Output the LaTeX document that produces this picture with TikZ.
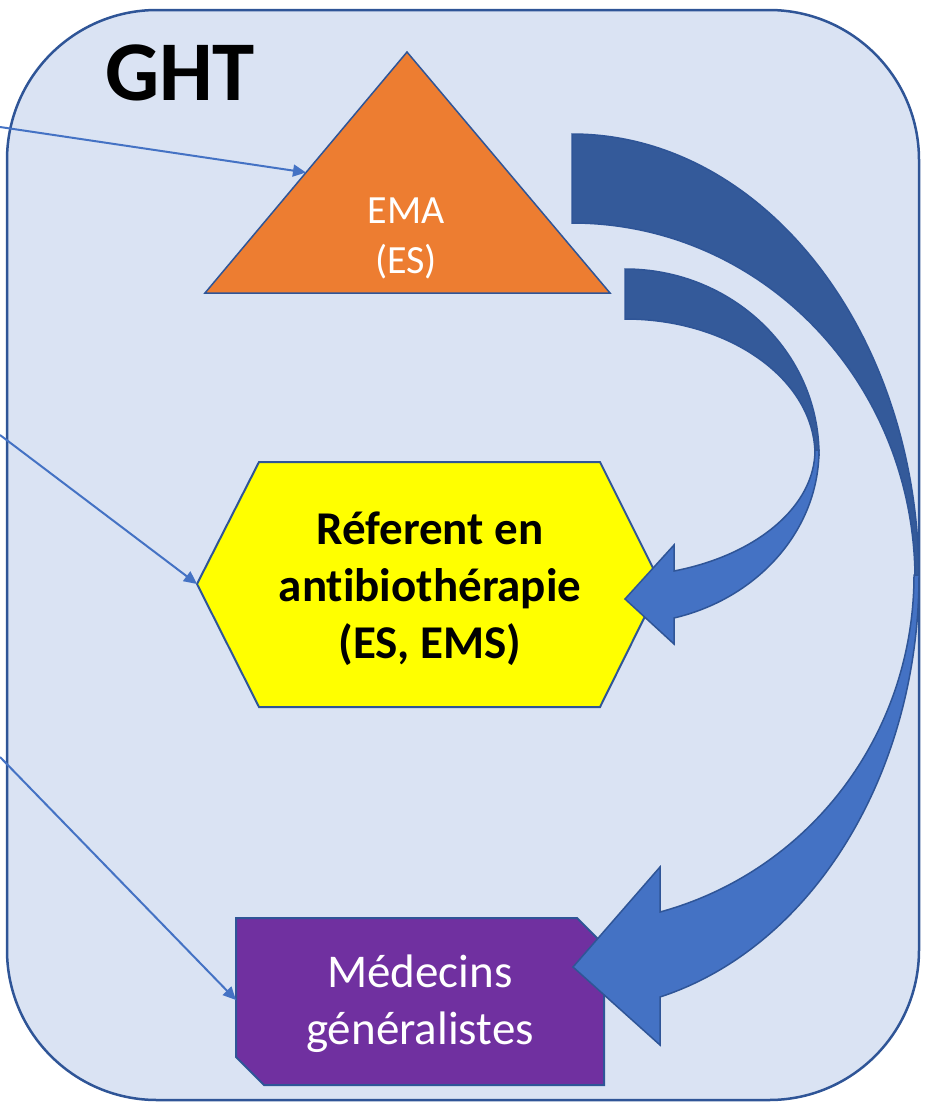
\documentclass[tikz,border=0pt]{standalone}
\usepackage{fontspec}
\setmainfont{Carlito}[Ligatures=NoCommon]
\usetikzlibrary{arrows.meta, calc}
\definecolor{GhtFill}{RGB}{218, 227, 243}
\definecolor{GhtLine}{RGB}{47, 85, 151}
\definecolor{EmaOrange}{RGB}{237, 125, 49}
\definecolor{RefYellow}{RGB}{255, 255, 0}
\definecolor{MgPurple}{RGB}{112, 48, 160}
\definecolor{BandDark}{RGB}{52, 90, 154}
\definecolor{BandLight}{RGB}{68, 114, 196}

\begin{document}
\begin{tikzpicture}[
            x=1pt, y=-1pt,
            ghtframe/.style={draw=GhtLine, fill=GhtFill, line width=2.5pt, rounded corners=150pt},
            ghttitle/.style={font=\fontsize{85}{100}\selectfont\bfseries, inner sep=0pt},
            emashape/.style={draw=GhtLine, fill=EmaOrange, line width=1.5pt, line join=miter},
            refshape/.style={draw=GhtLine, fill=RefYellow, line width=2pt},
            mgshape/.style={draw=GhtLine, fill=MgPurple, line width=2pt},
            ematext/.style={text=white, align=center, inner sep=0pt, font=\fontsize{40}{50}\selectfont},
            reftext/.style={align=center, inner sep=0pt, font=\fontsize{47}{57}\selectfont\bfseries},
            mgtext/.style={text=white, align=center, inner sep=0pt, font=\fontsize{47}{57}\selectfont},
            feed/.style={-{Triangle[length=13pt, width=12pt]}, line width=2pt, BandLight},
            backband/.style={fill=BandDark, draw=GhtLine, line width=1.5pt},
            frontband/.style={fill=BandLight, draw=GhtLine, line width=1.5pt}
        ]
            \useasboundingbox (0,0) rectangle (935,1103);
            \draw[ghtframe] (7,10) rectangle (919,1100);
            \node[ghttitle, anchor=base] (ght) at (180,100) {GHT};

            \coordinate (emaTop) at (407,52);
            \coordinate (emaRight) at (610,293);
            \coordinate (emaLeft) at (205,293);
            \draw[emashape] (emaTop) -- (emaRight) -- (emaLeft) -- cycle;
            \node[ematext] (ema) at (406,238) {EMA\\(ES)};

            \draw[refshape] (197,584) -- (259,462) -- (600,462) -- (661,584) -- (600,707) -- (259,707) -- cycle;
            \node[reftext] (ref) at (430,589) {Réferent en\\antibiothérapie\\(ES, EMS)};

            \draw[mgshape] (236,918) -- (577,918) -- (604,945) -- (604,1085) -- (264,1085) -- (236,1057) -- cycle;
            \node[mgtext] (mg) at (420,1004) {Médecins\\généralistes};

            \coordinate (emaIn) at ($(emaTop)!0.5!(emaLeft)$);
            \coordinate (refIn) at (197,584);
            \coordinate (mgIn) at (236,1000);
            \coordinate (srcEma) at (0,127);
            \coordinate (srcRef) at (0,435);
            \coordinate (srcMg) at (0,757);
            \draw[feed] (srcEma) -- (emaIn);
            \draw[feed] (srcRef) -- (refIn);
            \draw[feed] (srcMg) -- (mgIn);

            \draw[backband] (572,134) .. controls (764,134) and (919,334) .. (919,580)
                -- (915,580) .. controls (915,381) and (761,223) .. (572,223) -- cycle;
            \draw[frontband] (919,575) .. controls (919,773) and (813,947) .. (660,997)
                -- (660,1045) -- (573,967) -- (660,867) -- (660,912)
                .. controls (810,871) and (914,734) .. (914,575) -- cycle;

            \draw[backband] (625,269) .. controls (732,269) and (819,352) .. (819,455)
                -- (815,455) .. controls (815,380) and (730,319) .. (625,319) -- cycle;
            \draw[frontband] (819,450) .. controls (819,529) and (759,598) .. (674,618)
                -- (674,644) -- (625,599) -- (674,545) -- (674,571)
                .. controls (757,555) and (815,506) .. (815,450) -- cycle;
        \end{tikzpicture}
\end{document}
